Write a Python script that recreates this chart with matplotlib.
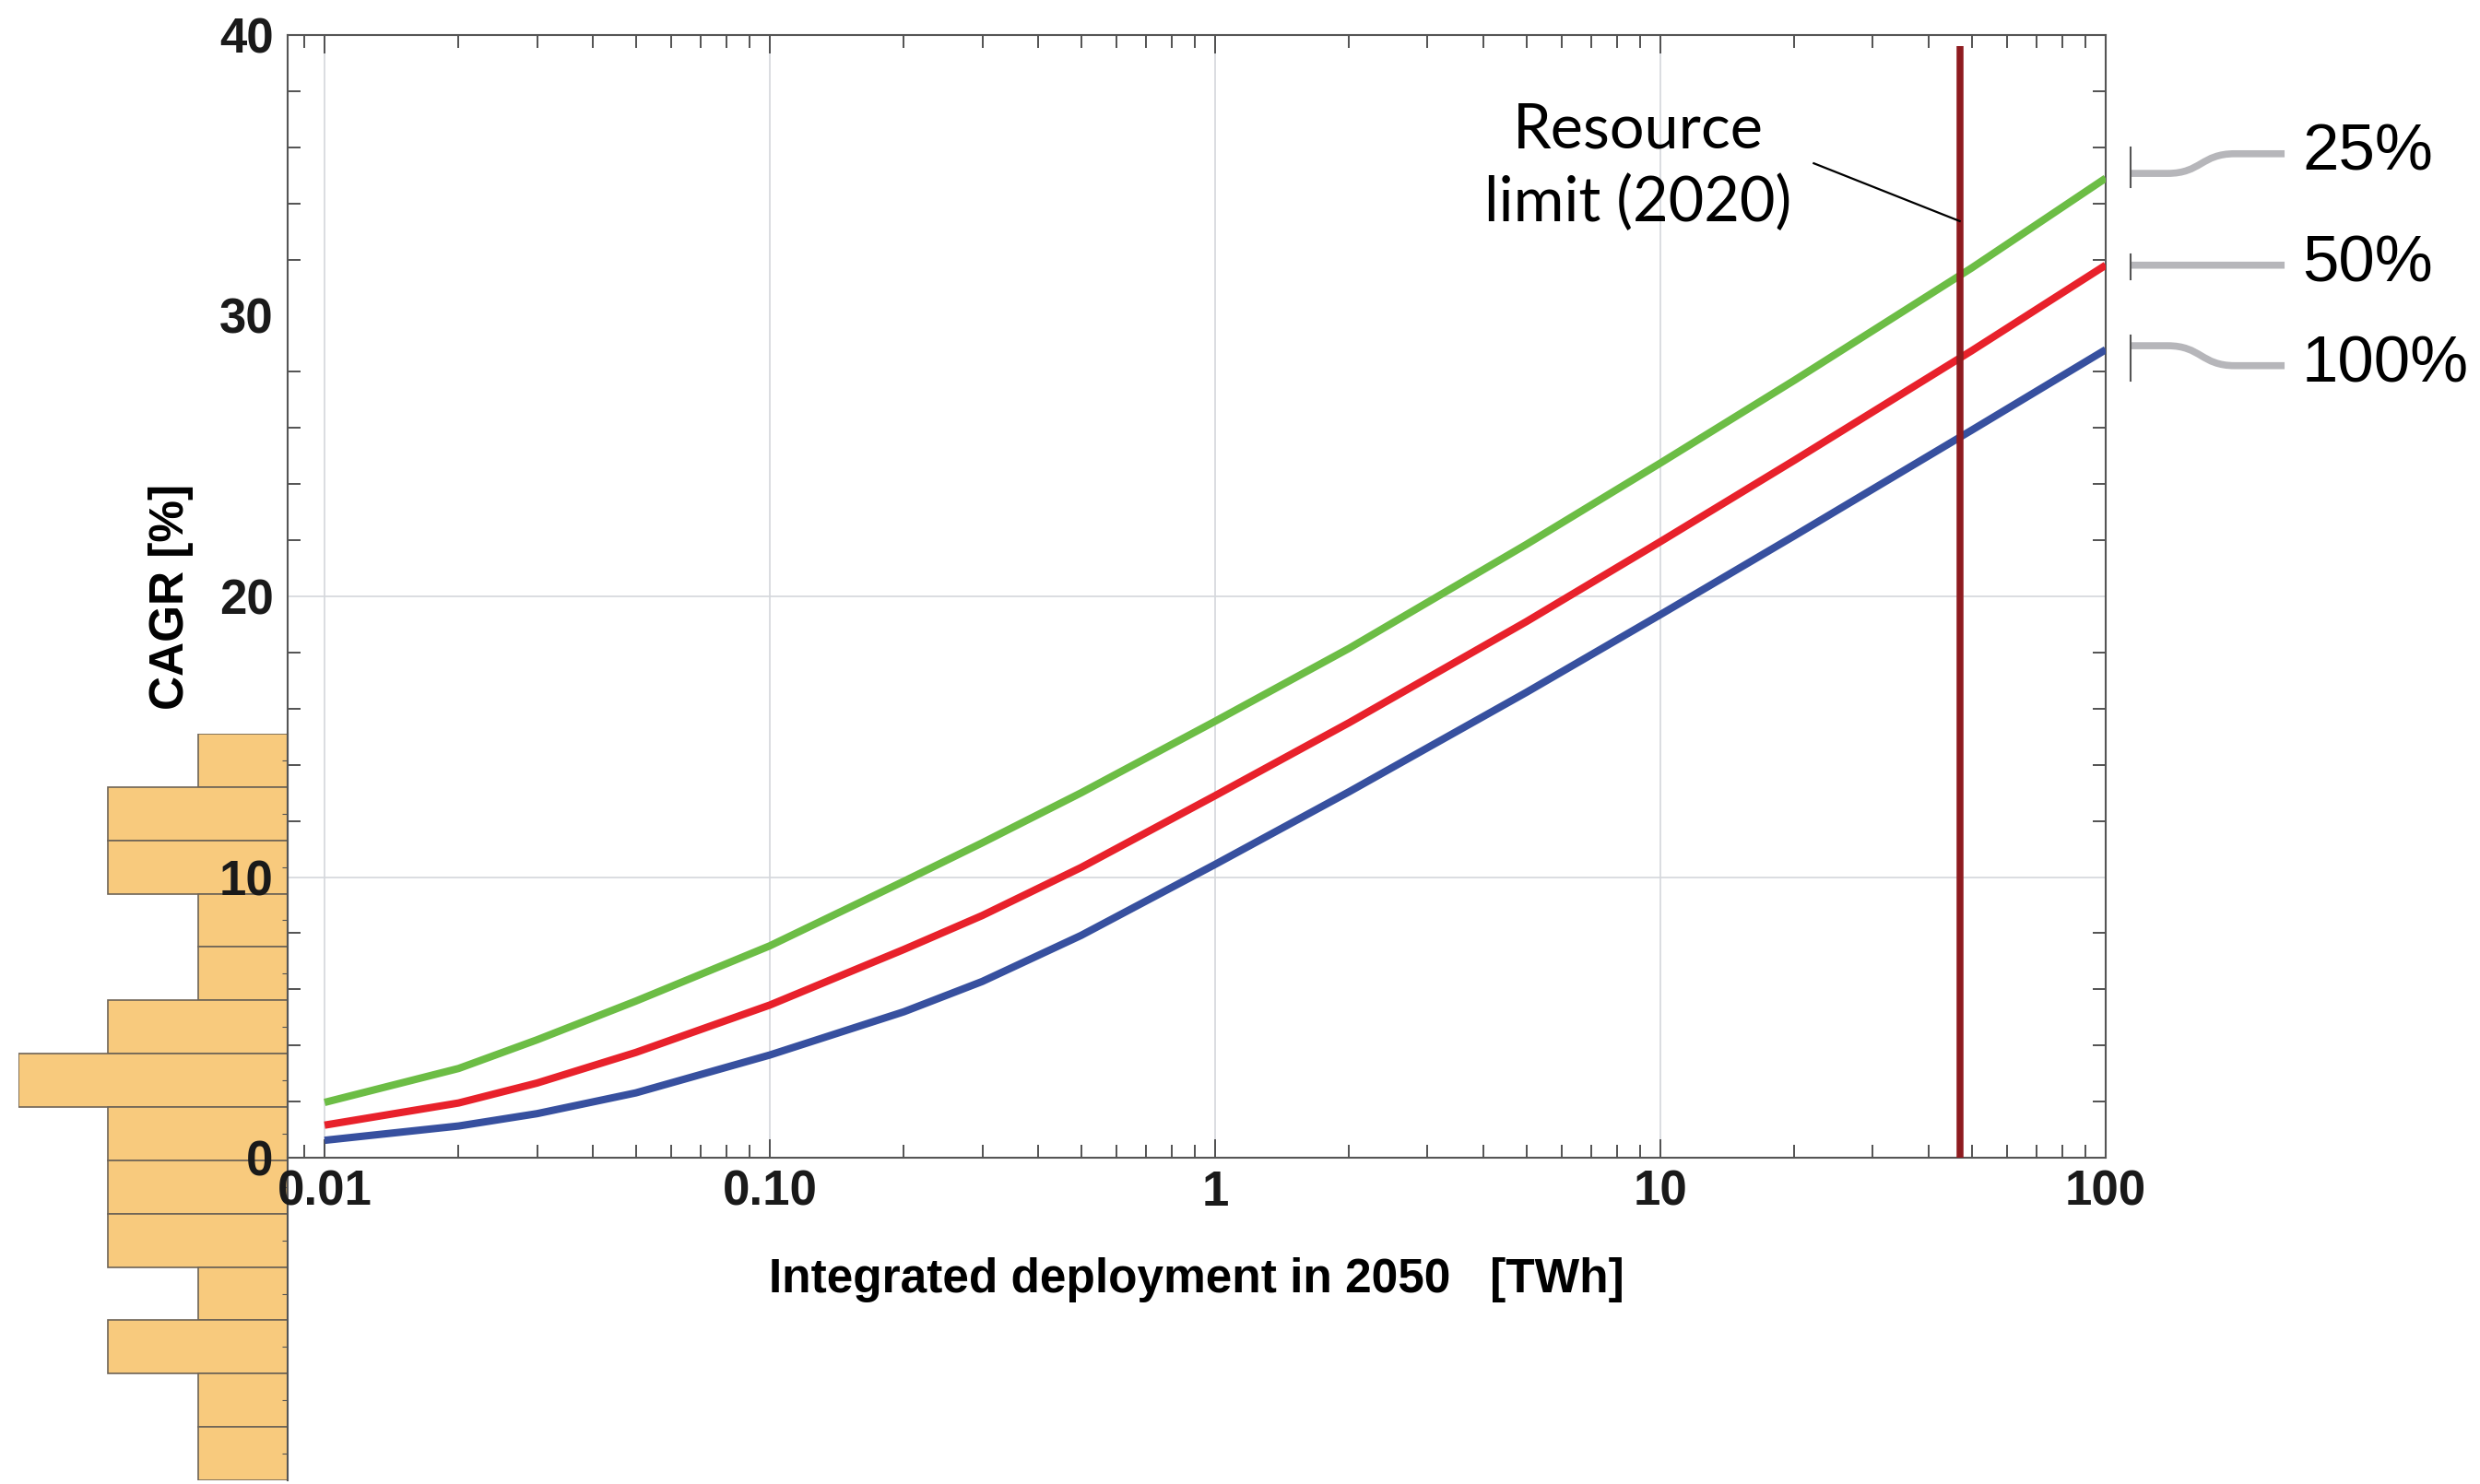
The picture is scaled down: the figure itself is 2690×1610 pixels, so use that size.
import numpy as np
import matplotlib
matplotlib.use("Agg")
import matplotlib.pyplot as plt
import matplotlib.transforms as mtransforms
from matplotlib.path import Path
from matplotlib.patches import PathPatch

# ---------- data ----------
deploy_twh = [0.01, 0.02, 0.03, 0.05, 0.1, 0.2, 0.3, 0.5, 1, 2, 5, 10, 20, 50, 100]
cagr_25 = [1.97, 3.18, 4.2, 5.58, 7.55, 9.85, 11.22, 13.0, 15.55, 18.15, 21.85, 24.75, 27.7, 31.7, 34.9]
cagr_50 = [1.16, 1.95, 2.66, 3.75, 5.44, 7.42, 8.63, 10.34, 12.9, 15.5, 19.1, 21.95, 24.85, 28.75, 31.8]
cagr_100 = [0.62, 1.13, 1.57, 2.31, 3.66, 5.2, 6.28, 7.92, 10.45, 13.04, 16.58, 19.35, 22.16, 25.92, 28.79]
series_labels = ["25%", "50%", "100%"]
series_colors = ["#6cbd45", "#e8212b", "#37509f"]

resource_limit_x = 47.0
resource_limit_top = 39.6
leader_x = [22.1, 47.0]
leader_y = [35.43, 33.37]

# histogram inset (counts per bin, top bin first)
hist_counts = [1, 2, 2, 1, 1, 2, 3, 2, 2, 2, 1, 2, 1, 1]

x_ticks = [0.01, 0.1, 1, 10, 100]
x_ticklabels = ["0.01", "0.10", "1", "10", "100"]
y_ticks = [0, 10, 20, 30, 40]
y_minor = [v for v in range(2, 40, 2) if v != 30]
y_grid = [10, 20]

W, H = 2690, 1610
fig = plt.figure(figsize=(W / 100, H / 100), dpi=100)
fig.patch.set_facecolor("white")

bold_narrow = dict(family=["Liberation Sans Narrow", "Liberation Sans", "DejaVu Sans"], weight="bold")

# ---------- histogram inset (behind the main axes) ----------
axh = fig.add_axes([20 / W, 1 - 1606 / H, 292 / W, 810 / H], zorder=0)
axh.barh(np.arange(len(hist_counts)), hist_counts, height=1.0, align="edge",
         color="#f8ca7d", edgecolor="#6e6456", linewidth=1.2)
axh.set_xlim(3, 0)
axh.set_ylim(len(hist_counts), 0)
for s in ["left", "top", "bottom"]:
    axh.spines[s].set_visible(False)
axh.spines["right"].set_color("#555555")
axh.spines["right"].set_linewidth(1.5)
axh.set_xticks([])
axh.yaxis.tick_right()
axh.set_yticks(np.arange(len(hist_counts)) + 0.5)
axh.tick_params(axis="y", direction="in", length=4, color="#555555", labelright=False)
axh.patch.set_alpha(0)

# ---------- main axes ----------
ax = fig.add_axes([312 / W, 1 - 1256 / H, 1972 / W, 1218 / H], zorder=1)
ax.patch.set_alpha(0)
ax.set_xscale("log")
ax.set_xlim(0.00826, 100)
ax.set_ylim(0, 40)

for v in y_grid:
    ax.axhline(v, color="#d4d7dc", lw=1.2, zorder=0)
for v in x_ticks[:-1]:
    ax.axvline(v, color="#d4d7dc", lw=1.2, zorder=0)

for y, c in zip([cagr_25, cagr_50, cagr_100], series_colors):
    ax.plot(deploy_twh, y, color=c, lw=5.8, solid_capstyle="butt", solid_joinstyle="round", zorder=3)

ax.plot([resource_limit_x, resource_limit_x], [0, resource_limit_top],
        color="#8e1b1f", lw=5.4, solid_capstyle="butt", zorder=4, clip_on=False)

ax.plot(leader_x, leader_y, color="black", lw=1.6, zorder=4)
ax.text(8.9, 35.3, "Resource\nlimit (2020)", ha="center", va="center", multialignment="center",
        fontsize=48, family=["Lato", "DejaVu Sans"], linespacing=1.32)

# ticks
ax.set_xticks(x_ticks, labels=x_ticklabels)
ax.set_yticks(y_ticks, labels=[str(v) for v in y_ticks])
ax.set_yticks(y_minor, minor=True)
ax.tick_params(axis="x", which="major", direction="in", length=14.5, width=1.3,
               color="#444444", top=True, pad=9)
ax.tick_params(axis="x", which="minor", direction="in", length=10, width=1.3,
               color="#444444", top=True)
ax.tick_params(axis="y", which="major", length=0, pad=11)
ax.tick_params(axis="y", which="minor", direction="in", length=10, width=1.3,
               color="#444444", right=True)
ax.xaxis.set_minor_formatter(matplotlib.ticker.NullFormatter())
for lab in ax.get_xticklabels() + ax.get_yticklabels():
    lab.set_fontsize(38)
    lab.set_fontfamily(bold_narrow["family"])
    lab.set_fontweight("bold")
    lab.set_color("#1a1a1a")
for s in ax.spines.values():
    s.set_color("#555555")
    s.set_linewidth(1.5)

ax.set_xlabel("Integrated deployment in 2050   [TWh]", fontsize=37, labelpad=33, **bold_narrow)
ax.set_ylabel("CAGR [%]", fontsize=37, labelpad=20, **bold_narrow)

# ---------- right-side series labels with connectors ----------
trans = mtransforms.blended_transform_factory(ax.transAxes, ax.transData)
x_bar, x_bend0, x_bend1, x_end, x_text = 1.0137, 1.034, 1.071, 1.0984, 1.108
connectors = [
    # (bracket low, bracket high, line start y, label y)
    (34.58, 35.99, 35.07, 35.77),
    (31.30, 32.20, 31.80, 31.80),
    (27.70, 29.30, 28.93, 28.22),
]
for (b0, b1, y0, y1), lab in zip(connectors, series_labels):
    ax.plot([x_bar, x_bar], [b0, b1], transform=trans, color="#555555", lw=1.5, clip_on=False)
    xm = (x_bend0 + x_bend1) / 2
    path = Path([(x_bar, y0), (x_bend0, y0), (xm, y0), (xm, y1), (x_bend1, y1), (x_end, y1)],
                [Path.MOVETO, Path.LINETO, Path.CURVE4, Path.CURVE4, Path.CURVE4, Path.LINETO])
    ax.add_patch(PathPatch(path, transform=trans, facecolor="none", edgecolor="#b6b6ba",
                           lw=5.5, clip_on=False, capstyle="butt"))
    ax.text(x_text, y1, lab, transform=trans, ha="left", va="center", fontsize=51,
            family=["Liberation Sans", "DejaVu Sans"], color="black")

fig.savefig("out.png", dpi=100, facecolor="white")
